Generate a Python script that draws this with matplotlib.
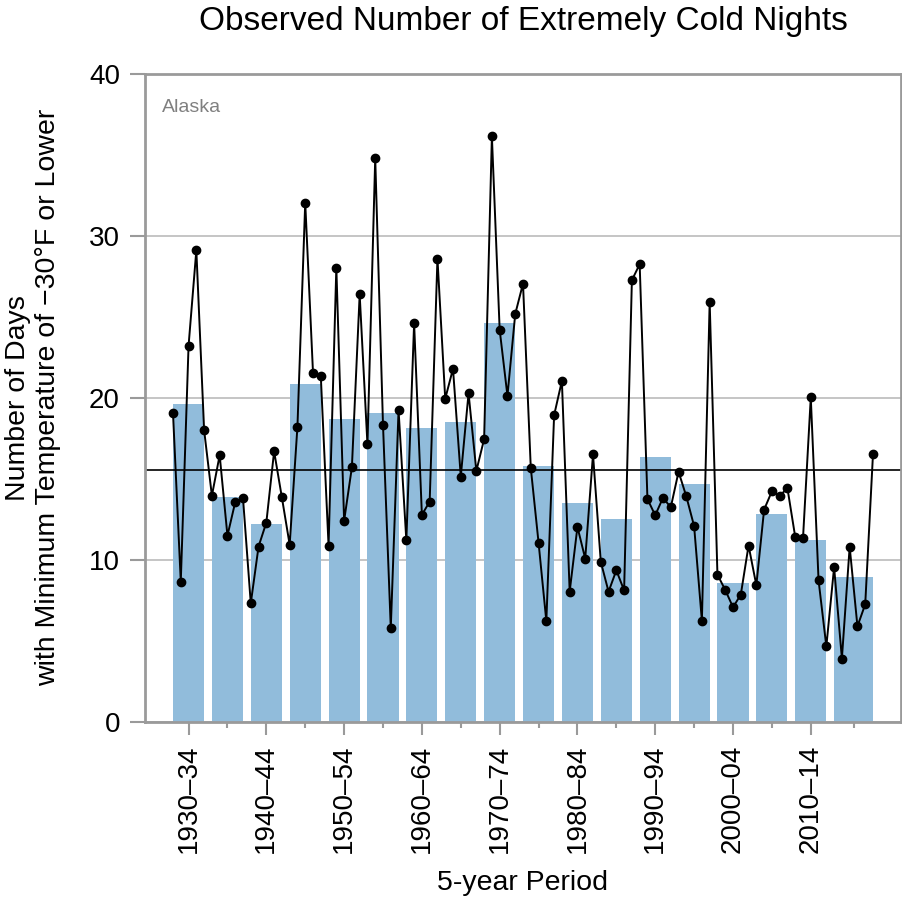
import matplotlib
matplotlib.use("Agg")
import matplotlib.pyplot as plt
from matplotlib.ticker import FixedLocator

plt.rcParams["font.family"] = ["Liberation Sans", "DejaVu Sans"]

# annual counts, 1930-2020
years = list(range(1930, 2021))
cold_nights = [
    19.05, 8.64, 23.21, 29.11, 18.00, 13.95, 16.45, 11.48, 13.55, 13.79,
    7.30, 10.81, 12.29, 16.69, 13.84, 10.92, 18.22, 32.06, 21.55, 21.36,
    10.87, 28.04, 12.40, 15.70, 26.38, 17.12, 34.80, 18.33, 5.77, 19.24,
    11.19, 24.60, 12.77, 13.58, 28.60, 19.94, 21.79, 15.13, 20.28, 15.48,
    17.44, 36.14, 24.20, 20.12, 25.17, 27.05, 15.67, 11.05, 6.20, 18.92,
    21.04, 8.02, 12.02, 10.06, 16.50, 9.87, 8.02, 9.34, 8.10, 27.26,
    28.25, 13.74, 12.74, 13.82, 13.23, 15.43, 13.90, 12.07, 6.22, 25.92,
    9.07, 8.13, 7.06, 7.83, 10.87, 8.42, 13.09, 14.22, 13.95, 14.41,
    11.40, 11.32, 20.02, 8.72, 4.64, 9.53, 3.89, 10.79, 5.88, 7.24,
    16.53,
]

# 5-year periods (the last one runs 2015-2020)
period_start = [1930, 1935, 1940, 1945, 1950, 1955, 1960, 1965, 1970,
                1975, 1980, 1985, 1990, 1995, 2000, 2005, 2010, 2015]
period_end = [1934, 1939, 1944, 1949, 1954, 1959, 1964, 1969, 1974,
              1979, 1984, 1989, 1994, 1999, 2004, 2009, 2014, 2020]
period_mean = [19.59, 13.87, 12.18, 20.82, 18.67, 19.05, 18.11, 18.49, 24.63,
               15.78, 13.50, 12.50, 16.34, 14.68, 8.56, 12.80, 11.22, 8.93]
period_labels = ["1930–34", "", "1940–44", "", "1950–54", "", "1960–64", "",
                 "1970–74", "", "1980–84", "", "1990–94", "", "2000–04", "",
                 "2010–14", ""]
long_term_avg = 15.51

grey = "#9a9a9a"

fig = plt.figure(figsize=(9.03, 9.01), dpi=100)
ax = fig.add_axes([145 / 903, 1 - 721.5 / 901, 756 / 903, 647.5 / 901])

widths = [e - s for s, e in zip(period_start, period_end)]
ax.bar(period_start, period_mean, width=widths, align="edge",
       color="#91bcdb", zorder=1)
ax.axhline(long_term_avg, color="black", lw=1.2, zorder=2)
ax.plot(years, cold_nights, color="black", lw=1.4, marker="o", ms=6, zorder=3)

ax.set_xlim(1926.4, 2023.6)
ax.set_ylim(0, 40)
ax.set_yticks([0, 10, 20, 30, 40])
ax.yaxis.grid(True, color="#c0c0c0", lw=1.3, zorder=0)
ax.set_axisbelow(True)

centers = [(s + e) / 2 for s, e in zip(period_start, period_end)]
major = [c for c, lab in zip(centers, period_labels) if lab]
minor = [c for c, lab in zip(centers, period_labels) if not lab]
ax.xaxis.set_major_locator(FixedLocator(major))
ax.set_xticklabels([lab for lab in period_labels if lab], rotation=90)
ax.xaxis.set_minor_locator(FixedLocator(minor))
ax.tick_params(axis="x", which="major", length=9.5, width=1.5, color=grey,
               labelsize=20, pad=7)
ax.tick_params(axis="x", which="minor", length=4.5, width=1.5, color=grey)
ax.tick_params(axis="y", length=11, width=1.5, color=grey, labelsize=20, pad=7)

for side in ["left", "right", "top", "bottom"]:
    ax.spines[side].set_color(grey)
    ax.spines[side].set_linewidth(2)

ax.text(0.022, 0.962, "Alaska", transform=ax.transAxes, fontsize=14,
        color="#808080", va="top", ha="left")

ax.set_title("Observed Number of Extremely Cold Nights", fontsize=24, pad=32)
ax.set_xlabel("5-year Period", fontsize=20.5, labelpad=12)
ax.set_ylabel("Number of Days\nwith Minimum Temperature of −30°F or Lower",
              fontsize=20.5, labelpad=20)

fig.savefig("out.png", dpi=100)
